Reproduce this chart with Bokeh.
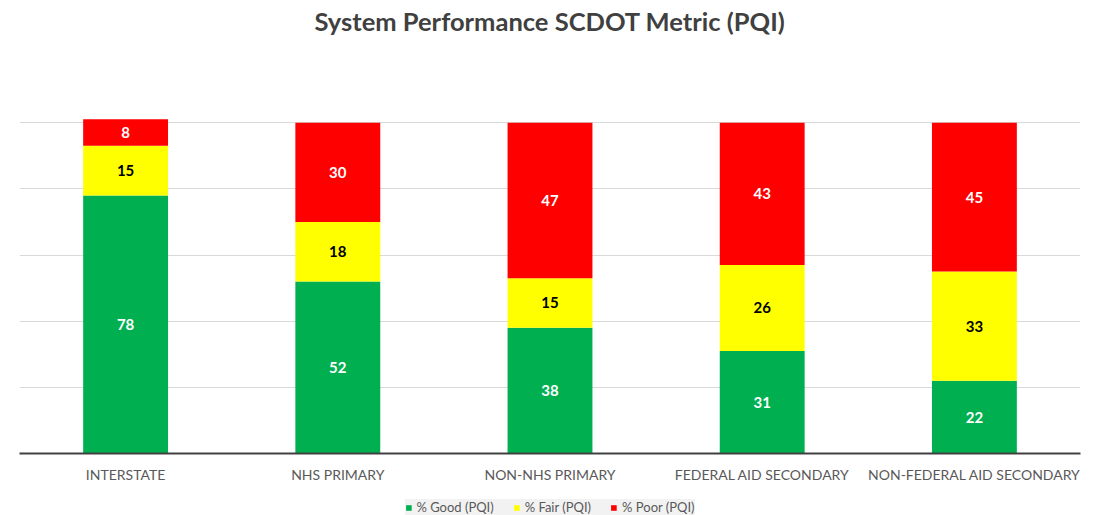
import numpy as np
from bokeh.plotting import figure
from bokeh.models import (ColumnDataSource, Range1d, FixedTicker, Legend, LegendItem, LabelSet)
from bokeh.layouts import column
from bokeh.core.properties import value
from bokeh.embed import file_html
from bokeh.resources import INLINE

categories = ["INTERSTATE", "NHS PRIMARY", "NON-NHS PRIMARY", "FEDERAL AID SECONDARY", "NON-FEDERAL AID SECONDARY"]
good = [78, 52, 38, 31, 22]
fair = [15, 18, 15, 26, 33]
poor = [8, 30, 47, 43, 45]
series_names = ["% Good (PQI)", "% Fair (PQI)", "% Poor (PQI)"]
colors = ["#00b050", "#ffff00", "#ff0000"]
title_text = "System Performance SCDOT Metric (PQI)"

FONT = "Lato"

# title strip (its own small figure)
pt = figure(width=1095, height=56, output_backend="svg", toolbar_location=None, min_border=0,
            x_axis_type=None, y_axis_type=None, title=title_text)
pt.grid.visible = False
pt.outline_line_color = None
pt.title.align = "center"
pt.title.text_font = FONT
pt.title.text_font_size = "25.5px"
pt.title.text_font_style = "bold"
pt.title.text_color = "#404040"
pt.title.standoff = 6

src = ColumnDataSource(dict(cat=categories, good=good, fair=fair, poor=poor))

p = figure(x_range=categories, y_range=Range1d(0, 120), width=1095, height=431,
           output_backend="svg", toolbar_location=None,
           min_border_left=19, min_border_right=15, min_border_top=0, min_border_bottom=34)
p.title.visible = False

renderers = p.vbar_stack(["good", "fair", "poor"], x="cat", width=0.4, source=src,
                         color=colors, line_color=None)

# labels at segment midpoints
mid_good = [g / 2 for g in good]
mid_fair = [g + f / 2 for g, f in zip(good, fair)]
mid_poor = [g + f + r / 2 for g, f, r in zip(good, fair, poor)]
for vals, mids, col in [(good, mid_good, "white"), (fair, mid_fair, "black"), (poor, mid_poor, "white")]:
    ls = ColumnDataSource(dict(cat=categories, y=mids, t=[str(v) for v in vals]))
    p.add_layout(LabelSet(x="cat", y="y", text="t", source=ls, text_align="center",
                          text_baseline="middle", text_color=col, text_font=value(FONT),
                          text_font_size="15px", text_font_style="bold"))

p.yaxis.visible = False
p.ygrid.ticker = FixedTicker(ticks=[20, 40, 60, 80, 100, 120])
p.ygrid.grid_line_color = "#d9d9d9"
p.ygrid.grid_line_width = 1
p.xgrid.grid_line_color = None
p.outline_line_color = None

p.xaxis.axis_line_color = "#404040"
p.xaxis.axis_line_width = 2
p.xaxis.major_tick_line_color = None
p.xaxis.minor_tick_line_color = None
p.xaxis.major_label_text_font = FONT
p.xaxis.major_label_text_font_size = "14px"
p.xaxis.major_label_text_color = "#595959"
p.xaxis.major_label_standoff = 6

# legend strip below the chart (its own small figure, with non-drawing proxy glyphs)
pl = figure(width=1095, height=28, x_range=Range1d(0, 1), y_range=Range1d(0, 1),
            output_backend="svg", toolbar_location=None, min_border=0,
            x_axis_type=None, y_axis_type=None)
pl.grid.visible = False
pl.outline_line_color = None
leg_renderers = [pl.vbar(x=[np.nan], top=[np.nan], width=0.1, color=c, line_color=None) for c in colors]

legend = Legend(items=[LegendItem(label=n, renderers=[r]) for n, r in zip(series_names, leg_renderers)],
                orientation="horizontal", location="bottom")
legend.label_text_font = FONT
legend.label_text_font_size = "13px"
legend.label_text_color = "#595959"
legend.label_height = 14
legend.glyph_width = 7
legend.glyph_height = 7
legend.label_standoff = 5
legend.spacing = 19
legend.padding = 3
legend.margin = 0
legend.background_fill_color = "#f2f2f2"
legend.background_fill_alpha = 1
legend.border_line_color = None
pl.add_layout(legend, "center")

layout = column(pt, p, pl, spacing=0)
open("out.html", "w").write(file_html(layout, INLINE))
